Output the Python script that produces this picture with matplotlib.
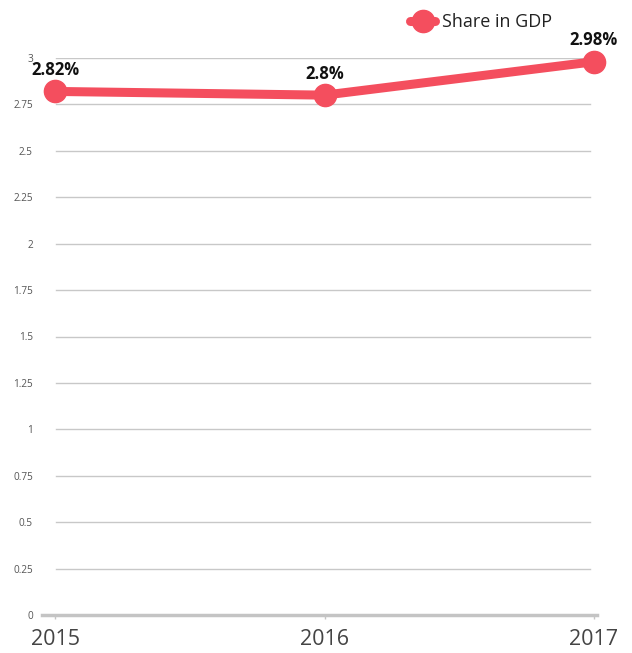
import matplotlib.pyplot as plt
import numpy as np

years = [2015, 2016, 2017]
share_gdp = [2.82, 2.80, 2.98]
value_labels = ["2.82%", "2.8%", "2.98%"]
y_ticks = [0, 0.25, 0.5, 0.75, 1, 1.25, 1.5, 1.75, 2, 2.25, 2.5, 2.75, 3]
y_tick_labels = ["0", "0.25", "0.5", "0.75", "1", "1.25", "1.5", "1.75", "2", "2.25", "2.5", "2.75", "3"]

plt.rcParams["font.family"] = ["Open Sans", "DejaVu Sans"]
RED = "#f44e5e"

fig = plt.figure(figsize=(6.32, 6.53), dpi=100)
ax = fig.add_axes([55 / 632, 38 / 653, 539 / 632, 557 / 653])

ax.set_xlim(2015, 2017)
ax.set_ylim(0, 3)

for t in y_ticks[1:]:
    ax.axhline(t, xmin=0.002, xmax=0.993, color="#c8c8c8", lw=1.0, zorder=1)
ax.axhline(0, xmin=-0.025, xmax=1.005, color="#c4c4c4", lw=2.5, zorder=1, clip_on=False)

ax.plot(years, share_gdp, color=RED, lw=6.5, marker="o", markersize=16,
        solid_capstyle="round", zorder=3, clip_on=False, label="Share in GDP")

for x, y, s in zip(years, share_gdp, value_labels):
    ax.annotate(s, (x, y), xytext=(0, 9), textcoords="offset points",
                ha="center", va="bottom", fontsize=12, fontweight="bold", color="#111111",
                zorder=4)

for side in ["top", "right", "left", "bottom"]:
    ax.spines[side].set_visible(False)

ax.set_yticks(y_ticks)
ax.set_yticklabels(y_tick_labels, fontsize=7.2, color="#555555")
ax.tick_params(axis="y", length=0, pad=16)
ax.set_xticks(years)
ax.set_xticklabels([str(y) for y in years], fontsize=15.5, color="#444444")
ax.tick_params(axis="x", length=3, color="#c4c4c4", width=1, pad=7)

leg = ax.legend(loc="lower right", bbox_to_anchor=(0.935, 1.035), frameon=False,
                fontsize=13, handlelength=1.4, handletextpad=0.35, borderaxespad=0)
for t in leg.get_texts():
    t.set_color("#222222")

fig.savefig("out.png", dpi=100)
